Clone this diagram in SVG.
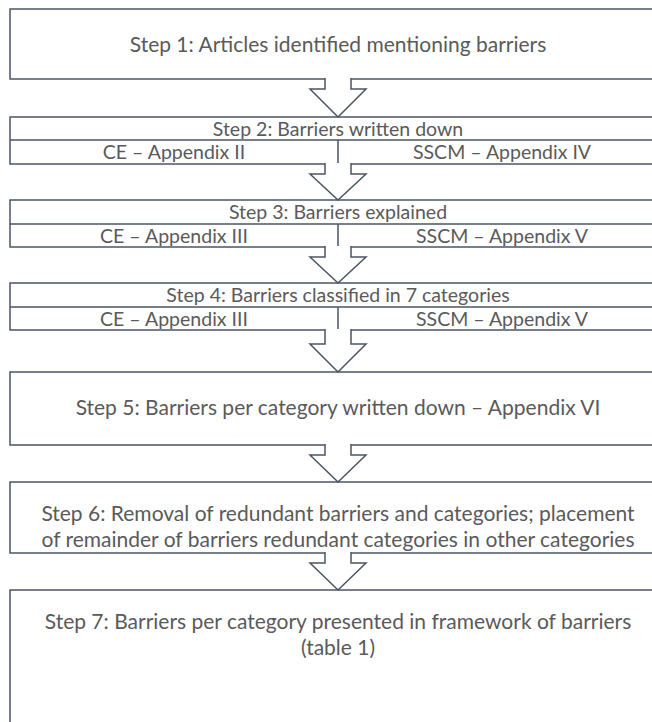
<svg xmlns="http://www.w3.org/2000/svg" width="652" height="722" viewBox="0 0 652 722">
  <style>
    .box { fill: #ffffff; stroke: #4a5566; stroke-width: 1.5; }
    .div { fill: none; stroke: #4a5566; stroke-width: 1.5; }
    .arr { fill: #ffffff; stroke: #4a5566; stroke-width: 1.5; stroke-linejoin: miter; }
    .gap { fill: #ffffff; stroke: none; }
    text { font-family: Lato, "Open Sans", "Liberation Sans", sans-serif; fill: #5a5a5a; text-anchor: middle; }
    .big { font-size: 21px; }
    .row { font-size: 19.5px; }
  </style>
  <rect width="652" height="722" fill="#ffffff"/>

  <!-- Step boxes (right edge runs off the canvas) -->
  <g id="step1">
    <rect class="box" x="10" y="9" width="656" height="70"/>
    <text class="big" x="338" y="52">Step 1: Articles identified mentioning barriers</text>
  </g>
  <g id="step2">
    <rect class="box" x="10" y="117" width="656" height="47"/>
    <line class="div" x1="10" y1="140" x2="666" y2="140"/>
    <line class="div" x1="338" y1="140" x2="338" y2="164"/>
    <text class="row" x="338" y="135.5">Step 2: Barriers written down</text>
    <text class="row" x="174" y="159">CE – Appendix II</text>
    <text class="row" x="502" y="159">SSCM – Appendix IV</text>
  </g>
  <g id="step3">
    <rect class="box" x="10" y="200" width="656" height="47"/>
    <line class="div" x1="10" y1="224" x2="666" y2="224"/>
    <line class="div" x1="338" y1="224" x2="338" y2="247"/>
    <text class="row" x="338" y="219">Step 3: Barriers explained</text>
    <text class="row" x="174" y="242.5">CE – Appendix III</text>
    <text class="row" x="502" y="242.5">SSCM – Appendix V</text>
  </g>
  <g id="step4">
    <rect class="box" x="10" y="283" width="656" height="47"/>
    <line class="div" x1="10" y1="307" x2="666" y2="307"/>
    <line class="div" x1="338" y1="307" x2="338" y2="330"/>
    <text class="row" x="338" y="302">Step 4: Barriers classified in 7 categories</text>
    <text class="row" x="174" y="325.5">CE – Appendix III</text>
    <text class="row" x="502" y="325.5">SSCM – Appendix V</text>
  </g>
  <g id="step5">
    <rect class="box" x="10" y="372" width="656" height="73"/>
    <text class="big" x="338" y="415">Step 5: Barriers per category written down – Appendix VI</text>
  </g>
  <g id="step6">
    <rect class="box" x="10" y="482" width="656" height="71"/>
    <text class="big" x="338" y="521">Step 6: Removal of redundant barriers and categories; placement</text>
    <text class="big" x="338" y="547">of remainder of barriers redundant categories in other categories</text>
  </g>
  <g id="step7">
    <rect class="box" x="10" y="590" width="656" height="150"/>
    <text class="big" x="338" y="629">Step 7: Barriers per category presented in framework of barriers</text>
    <text class="big" x="338" y="655">(table 1)</text>
  </g>

  <!-- Hollow block arrows between steps -->
  <g id="connectors">
    <g transform="translate(0,79)">
      <rect class="gap" x="326" y="-1" width="25" height="3"/>
      <path class="arr" d="M325,-1 V10 H310 L338,38 L366,10 H351 V-1"/>
    </g>
    <g transform="translate(0,164)">
      <rect class="gap" x="326" y="-1" width="25" height="3"/>
      <path class="arr" d="M325,-1 V10 H310 L338,36 L366,10 H351 V-1"/>
    </g>
    <g transform="translate(0,247)">
      <rect class="gap" x="326" y="-1" width="25" height="3"/>
      <path class="arr" d="M325,-1 V10 H310 L338,36 L366,10 H351 V-1"/>
    </g>
    <g transform="translate(0,330)">
      <rect class="gap" x="326" y="-1" width="25" height="3"/>
      <path class="arr" d="M325,-1 V14 H310 L338,42 L366,14 H351 V-1"/>
    </g>
    <g transform="translate(0,445)">
      <rect class="gap" x="326" y="-1" width="25" height="3"/>
      <path class="arr" d="M325,-1 V10 H310 L338,37 L366,10 H351 V-1"/>
    </g>
    <g transform="translate(0,553)">
      <rect class="gap" x="326" y="-1" width="25" height="3"/>
      <path class="arr" d="M325,-1 V10 H310 L338,37 L366,10 H351 V-1"/>
    </g>
  </g>
</svg>
